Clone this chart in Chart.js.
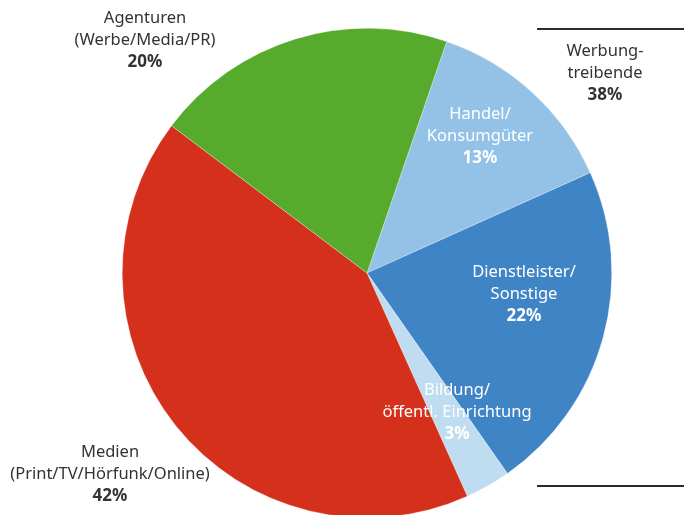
<!DOCTYPE html>
<html>
<head>
<meta charset="utf-8">
<script src="https://cdn.jsdelivr.net/npm/chart.js@4.4.0/dist/chart.umd.min.js"></script>
<style>
  html, body { margin: 0; padding: 0; background: #fff; overflow: hidden; }
  #wrap { width: 684px; height: 540px; }
</style>
</head>
<body>
<div id="wrap"><canvas id="pie"></canvas></div>
<script>
// slice data, clockwise from the green/light blue border
const categories = ['Handel/Konsumgüter', 'Dienstleister/Sonstige', 'Bildung/öffentl. Einrichtung', 'Medien (Print/TV/Hörfunk/Online)', 'Agenturen (Werbe/Media/PR)'];
const shares = [13, 22, 3, 42, 20];
const sliceColors = ['#93c2e6', '#3f84c5', '#c0dcf0', '#d5301b', '#56aa2c'];

// text blocks: lines, bold value, colour
const labelLines = [
  ['Handel/', 'Konsumgüter'],
  ['Dienstleister/', 'Sonstige'],
  ['Bildung/', 'öffentl. Einrichtung'],
  ['Medien', '(Print/TV/Hörfunk/Online)'],
  ['Agenturen', '(Werbe/Media/PR)']
];
const labelValues = ['13%', '22%', '3%', '42%', '20%'];
const groupLabel = ['Werbung-', 'treibende'];
const groupValue = '38%';

const FONT = '"Noto Sans", sans-serif';

// where each text block sits (first line centre)
const labelSpots = [
  { x: 480, y: 114, color: '#ffffff' },
  { x: 524, y: 272, color: '#ffffff' },
  { x: 457, y: 390, color: '#ffffff' },
  { x: 110, y: 452, color: '#333333' },
  { x: 145, y: 18, color: '#333333' }
];

function drawBlock(ctx, lines, value, x, y, color) {
  ctx.fillStyle = color;
  ctx.textAlign = 'center';
  ctx.textBaseline = 'middle';
  ctx.font = '16.5px ' + FONT;
  lines.forEach(function(t, i) {
    ctx.fillText(t, x, y + i * 22);
  });
  ctx.font = 'bold 17px ' + FONT;
  ctx.fillText(value, x, y + lines.length * 22);
}

const labelPlugin = {
  id: 'labelPlugin',
  afterDraw(chart) {
    const ctx = chart.ctx;
    ctx.save();
    labelLines.forEach(function(lines, i) {
      const s = labelSpots[i];
      drawBlock(ctx, lines, labelValues[i], s.x, s.y, s.color);
    });
    drawBlock(ctx, groupLabel, groupValue, 605, 51, '#333333');

    // bracket lines for the Werbungtreibende group
    ctx.strokeStyle = '#2b2b2b';
    ctx.lineWidth = 2;
    ctx.beginPath();
    ctx.moveTo(537, 29);
    ctx.lineTo(684, 29);
    ctx.moveTo(537, 486);
    ctx.lineTo(684, 486);
    ctx.stroke();
    ctx.restore();
  }
};

const ctx = document.getElementById('pie').getContext('2d');
window.pieChart = new Chart(ctx, {
  type: 'pie',
  data: {
    labels: categories,
    datasets: [{
      data: shares,
      backgroundColor: sliceColors,
      borderColor: 'rgba(255,255,255,0.6)',
      borderWidth: 0.5
    }]
  },
  options: {
    responsive: true,
    maintainAspectRatio: false,
    animation: false,
    rotation: 19,
    layout: {
      padding: { left: 122, right: 72, top: 28, bottom: 22 }
    },
    plugins: {
      legend: { display: false },
      tooltip: { enabled: false }
    }
  },
  plugins: [labelPlugin]
});
</script>
</body>
</html>
